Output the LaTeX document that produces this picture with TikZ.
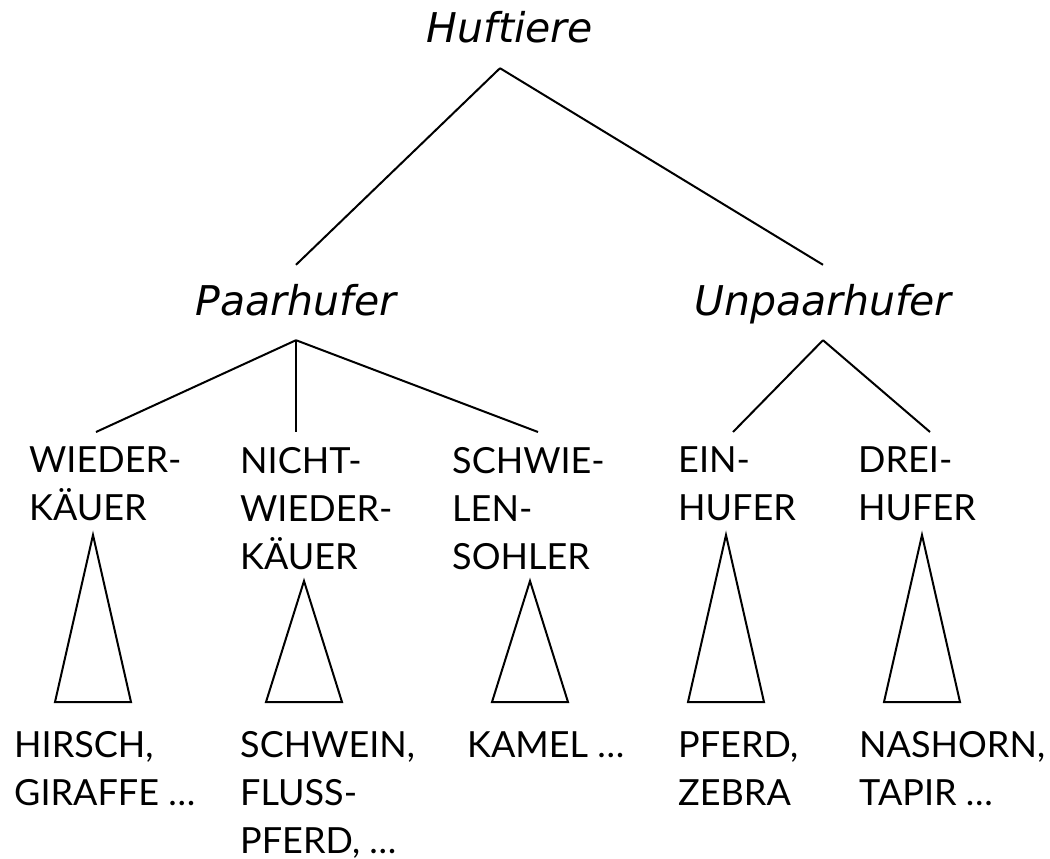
\documentclass[tikz,border=0pt]{standalone}
\usepackage{fontspec}
\setmainfont{Lato}
\newfontfamily\obl{DejaVu Sans}
\usepackage{tikz}

\begin{document}
\begin{tikzpicture}[
    x=1pt, y=-1pt,
    taxon/.style={font=\obl\itshape\fontsize{41}{48}\selectfont, inner sep=0pt, text height=50pt, text depth=25pt, anchor=base},
    group/.style={font=\fontsize{36}{48}\selectfont, align=left, inner xsep=0pt, inner ysep=15pt, anchor=north west},
    species/.style={font=\fontsize{36}{48}\selectfont, align=left, inner sep=0pt, anchor=north west},
    branch/.style={line width=2pt},
    subtree/.style={line width=2pt}
]
    \useasboundingbox (0,0) rectangle (1050,859);

    % Taxa
    \node[taxon] (huf)    at (510,43)  {Huftiere};
    \node[taxon] (paar)   at (296,315) {Paarhufer};
    \node[taxon] (unpaar) at (823,315) {Unpaarhufer};

    % Groups
    \node[group] (wk)  at (29,432)  {WIEDER-\\KÄUER};
    \node[group] (nwk) at (240,432) {NICHT-\\WIEDER-\\KÄUER};
    \node[group] (sw)  at (452,432) {SCHWIE-\\LEN-\\SOHLER};
    \node[group] (eh)  at (678,432) {EIN-\\HUFER};
    \node[group] (dh)  at (858,432) {DREI-\\HUFER};

    % Species
    \node[species] (hirsch)  at (14,731)  {HIRSCH,\\GIRAFFE …};
    \node[species] (schwein) at (240,731) {SCHWEIN,\\FLUSS-\\PFERD, …};
    \node[species] (kamel)   at (467,731) {KAMEL …};
    \node[species] (pferd)   at (678,731) {PFERD,\\ZEBRA};
    \node[species] (nashorn) at (859,731) {NASHORN,\\TAPIR …};

    % Branches
    \draw[branch] ([xshift=-10pt]huf.south) -- (paar.north);
    \draw[branch] ([xshift=-10pt]huf.south) -- (unpaar.north);
    \draw[branch] (paar.south) -- ([xshift=67pt]wk.north west);
    \draw[branch] (paar.south) -- ([xshift=56pt]nwk.north west);
    \draw[branch] (paar.south) -- ([xshift=86pt]sw.north west);
    \draw[branch] (unpaar.south) -- ([xshift=55pt]eh.north west);
    \draw[branch] (unpaar.south) -- ([xshift=72pt]dh.north west);

    % Subtrees
    \foreach \x/\y in {93/535, 304/581, 530/581, 726/535, 922/535}
        \draw[subtree] (\x,\y) -- (\x-38,702) -- (\x+38,702) -- cycle;

\end{tikzpicture}
\end{document}
